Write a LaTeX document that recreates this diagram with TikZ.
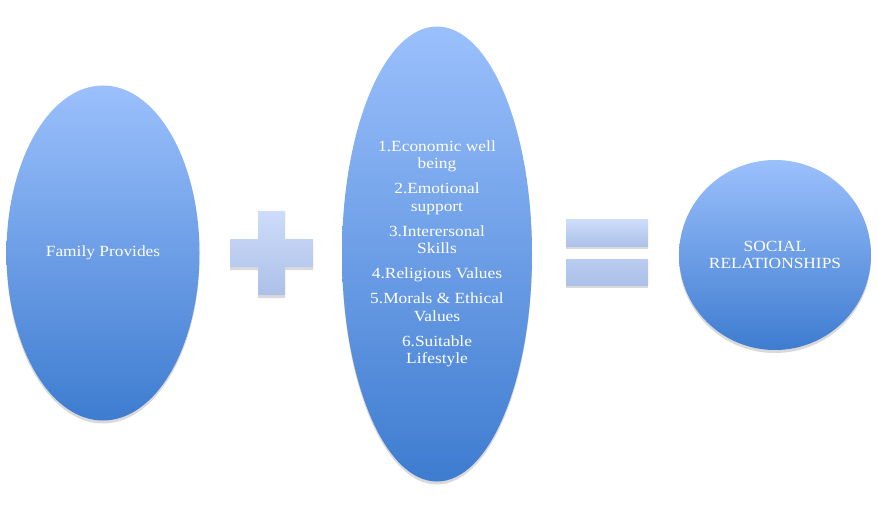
\documentclass[tikz,border=0pt]{standalone}
\usepackage{fontspec}
\setmainfont{Liberation Serif}[FakeStretch=1.12]
\usetikzlibrary{shapes.geometric,shadows}
\definecolor{topblue}{RGB}{155,192,252}
\definecolor{botblue}{RGB}{62,124,208}
\definecolor{toplight}{RGB}{205,220,250}
\definecolor{botlight}{RGB}{172,192,232}
\tikzset{
  softshadow/.style={drop shadow={shadow xshift=0pt, shadow yshift=-3pt, opacity=0.15, fill=black}},
  bubble/.style={ellipse, inner sep=0pt, top color=topblue, bottom color=botblue,
    draw=none, text=white, font=\fontsize{15.5}{17.5}\selectfont, align=center, softshadow},
  bar/.style={rectangle, inner sep=0pt, top color=toplight, bottom color=botlight, draw=none, softshadow},
  plusshape/.style={top color=toplight, bottom color=botlight, draw=none, softshadow},
}
\begin{document}
\begin{tikzpicture}[x=1pt,y=-1pt]
\useasboundingbox (0,0) rectangle (878,505);
\node[bubble, minimum width=193pt, minimum height=335pt] (fam) at (103,253) {Family Provides};
\path[plusshape] (258,211) -- (285,211) -- (285,239) -- (313,239) -- (313,267) -- (285,267)
  -- (285,295) -- (258,295) -- (258,267) -- (230,267) -- (230,239) -- (258,239) -- cycle;
\node[bubble, minimum width=190pt, minimum height=455pt] (list) at (437,254) {%
1.Economic well\\being\\[7.5pt]
2.Emotional\\support\\[7.5pt]
3.Interersonal\\Skills\\[7.5pt]
4.Religious Values\\[7.5pt]
5.Morals \& Ethical\\Values\\[7.5pt]
6.Suitable\\Lifestyle};
\node[bar, minimum width=82pt, minimum height=26pt] (eqtop) at (607,233) {};
\node[bar, minimum width=82pt, minimum height=26pt, top color=botlight!60!toplight, bottom color=botlight] (eqbot) at (607,272) {};
\node[bubble, minimum width=192pt, minimum height=190pt] (soc) at (775,255) {SOCIAL\\RELATIONSHIPS};
\end{tikzpicture}
\end{document}
